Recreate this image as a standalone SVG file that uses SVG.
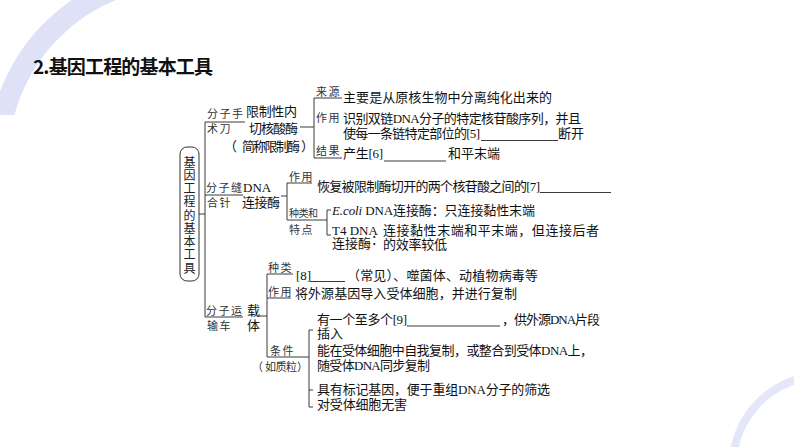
<svg xmlns="http://www.w3.org/2000/svg" width="794" height="447" viewBox="0 0 794 447">
<defs>
<clipPath id="cTL"><rect x="0" y="0" width="140" height="115"/></clipPath>
</defs>
<style>
.t{font-family:"Liberation Serif","Noto Sans CJK SC",serif;font-size:13px;fill:#111}
.l{font-family:"Noto Sans CJK SC",sans-serif;font-size:11px;fill:#333;letter-spacing:1.5px}
.r{font-family:"Noto Sans CJK SC",sans-serif;font-size:12px;fill:#222}
.ln{stroke:#3a3a3a;stroke-width:1;fill:none}
</style>
<rect width="794" height="447" fill="#fff"/>
<g id="decor">
<circle cx="181.5" cy="160" r="183.5" fill="none" stroke="#dfe2f7" stroke-width="21" clip-path="url(#cTL)"/>
<circle cx="822" cy="465" r="89" fill="none" stroke="#e4e7f9" stroke-width="8"/>
</g>
<text x="33" y="74" font-family="'Noto Sans CJK SC',sans-serif" font-size="19" font-weight="bold" fill="#111" textLength="180">2.基因工程的基本工具</text>

<g id="connectors">
<line class="ln" x1="199" y1="214" x2="205" y2="214"/>
<line class="ln" x1="205" y1="122" x2="205" y2="317"/>
<line class="ln" x1="205" y1="122" x2="245" y2="122"/>
<line class="ln" x1="205" y1="195" x2="243" y2="195"/>
<line class="ln" x1="205" y1="317" x2="243" y2="317"/>
<line class="ln" x1="300" y1="127" x2="314" y2="127"/>
<line class="ln" x1="314" y1="98" x2="314" y2="158"/>
<line class="ln" x1="314" y1="98" x2="342" y2="98"/>
<line class="ln" x1="314" y1="158" x2="342" y2="158"/>
<line class="ln" x1="281" y1="196" x2="287" y2="196"/>
<line class="ln" x1="287" y1="183" x2="287" y2="220"/>
<line class="ln" x1="287" y1="183" x2="312" y2="183"/>
<line class="ln" x1="287" y1="220" x2="327" y2="220"/>
<line class="ln" x1="327" y1="210" x2="327" y2="235"/>
<line class="ln" x1="327" y1="210" x2="331" y2="210"/>
<line class="ln" x1="327" y1="235" x2="331" y2="235"/>
<line class="ln" x1="259" y1="316" x2="267" y2="316"/>
<line class="ln" x1="267" y1="274" x2="267" y2="357"/>
<line class="ln" x1="267" y1="274" x2="293" y2="274"/>
<line class="ln" x1="267" y1="298" x2="291" y2="298"/>
<line class="ln" x1="267" y1="357" x2="309" y2="357"/>
<line class="ln" x1="309" y1="330" x2="309" y2="407"/>
<line class="ln" x1="309" y1="330" x2="313" y2="330"/>
<line class="ln" x1="309" y1="390" x2="313" y2="390"/>
<line class="ln" x1="309" y1="407" x2="313" y2="407"/>
</g>

<g id="root">
<rect x="180" y="147" width="19" height="134" rx="7" fill="none" stroke="#333" stroke-width="1"/>
<text class="r" x="189.5" y="156" style="writing-mode:vertical-rl;letter-spacing:1.25px">基因工程的基本工具</text>
</g>

<g id="scalpel">
<text class="l" x="207" y="118">分子手</text>
<text class="l" x="207" y="133">术刀</text>
<text class="t" x="246" y="116" textLength="51">限制性内</text>
<text class="t" x="249" y="133" textLength="49">切核酸酶</text>
<text class="t" x="224" y="151">（</text>
<text class="t" x="242" y="151" textLength="58">简称限制酶</text>
<text class="t" x="301" y="151">）</text>
</g>
<g id="scalpel-details">
<text class="l" x="316" y="96">来源</text>
<text class="l" x="316" y="122">作用</text>
<text class="l" x="316" y="155">结果</text>
<text class="t" x="343" y="102" textLength="209">主要是从原核生物中分离纯化出来的</text>
<text class="t" x="343" y="123" textLength="238">识别双链DNA分子的特定核苷酸序列，并且</text>
<text class="t" x="343" y="138" textLength="137">使每一条链特定部位的[5]</text>
<line class="ln" x1="481" y1="140.5" x2="558" y2="140.5"/>
<text class="t" x="558" y="138" textLength="26">断开</text>
<text class="t" x="343" y="158" textLength="40">产生[6]</text>
<line class="ln" x1="384" y1="161" x2="446" y2="161"/>
<text class="t" x="448" y="158" textLength="52">和平末端</text>
</g>

<g id="needle">
<text class="l" x="206" y="192">分子缝</text>
<text class="l" x="207" y="207">合针</text>
<text class="t" x="243" y="192">DNA</text>
<text class="t" x="242" y="207" textLength="38">连接酶</text>
</g>
<g id="needle-details">
<text class="l" x="289" y="181">作用</text>
<text class="t" x="317" y="191" textLength="223">恢复被限制酶切开的两个核苷酸之间的[7]</text>
<line class="ln" x1="540" y1="192.5" x2="611" y2="192.5"/>
<text class="l" x="289" y="217" textLength="29" style="letter-spacing:0;font-size:10px">种类和</text>
<text class="l" x="289" y="234">特点</text>
<text class="t" x="332" y="215" textLength="203"><tspan font-style="italic">E.coli</tspan> DNA连接酶：只连接黏性末端</text>
<text class="t"><tspan x="332" y="235">T4 DNA</tspan><tspan x="332" y="248">连接酶</tspan><tspan x="371" y="244">：</tspan></text>
<text class="t" x="383" y="235" textLength="216">连接黏性末端和平末端，但连接后者</text>
<text class="t" x="383" y="249" textLength="64">的效率较低</text>
</g>

<g id="vehicle">
<text class="l" x="206" y="315">分子运</text>
<text class="l" x="207" y="330">输车</text>
<text class="t" x="247" y="315">载</text>
<text class="t" x="247" y="330">体</text>
</g>
<g id="vehicle-details">
<text class="l" x="268" y="272">种类</text>
<text class="t" x="296" y="280">[8]</text>
<line class="ln" x1="310" y1="281.5" x2="345" y2="281.5"/>
<text class="t" x="347" y="280" textLength="191">（常见）、噬菌体、动植物病毒等</text>
<text class="l" x="268" y="296">作用</text>
<text class="t" x="295" y="298" textLength="222">将外源基因导入受体细胞，并进行复制</text>
<text class="l" x="270" y="355">条件</text>
<text class="l" x="252" y="371" style="letter-spacing:0">（</text>
<text class="l" x="265" y="371" style="letter-spacing:0" textLength="32">如质粒</text>
<text class="l" x="297" y="371" style="letter-spacing:0">）</text>
<text class="t" x="317" y="324" textLength="90">有一个至多个[9]</text>
<line class="ln" x1="407" y1="326" x2="500" y2="326"/>
<text class="t" x="502" y="324" textLength="98">，供外源DNA片段</text>
<text class="t" x="317" y="338">插入</text>
<text class="t" x="317" y="355" textLength="276">能在受体细胞中自我复制，或整合到受体DNA上，</text>
<text class="t" x="317" y="370" textLength="113">随受体DNA同步复制</text>
<text class="t" x="317" y="394" textLength="233">具有标记基因，便于重组DNA分子的筛选</text>
<text class="t" x="317" y="409" textLength="90">对受体细胞无害</text>
</g>
</svg>
